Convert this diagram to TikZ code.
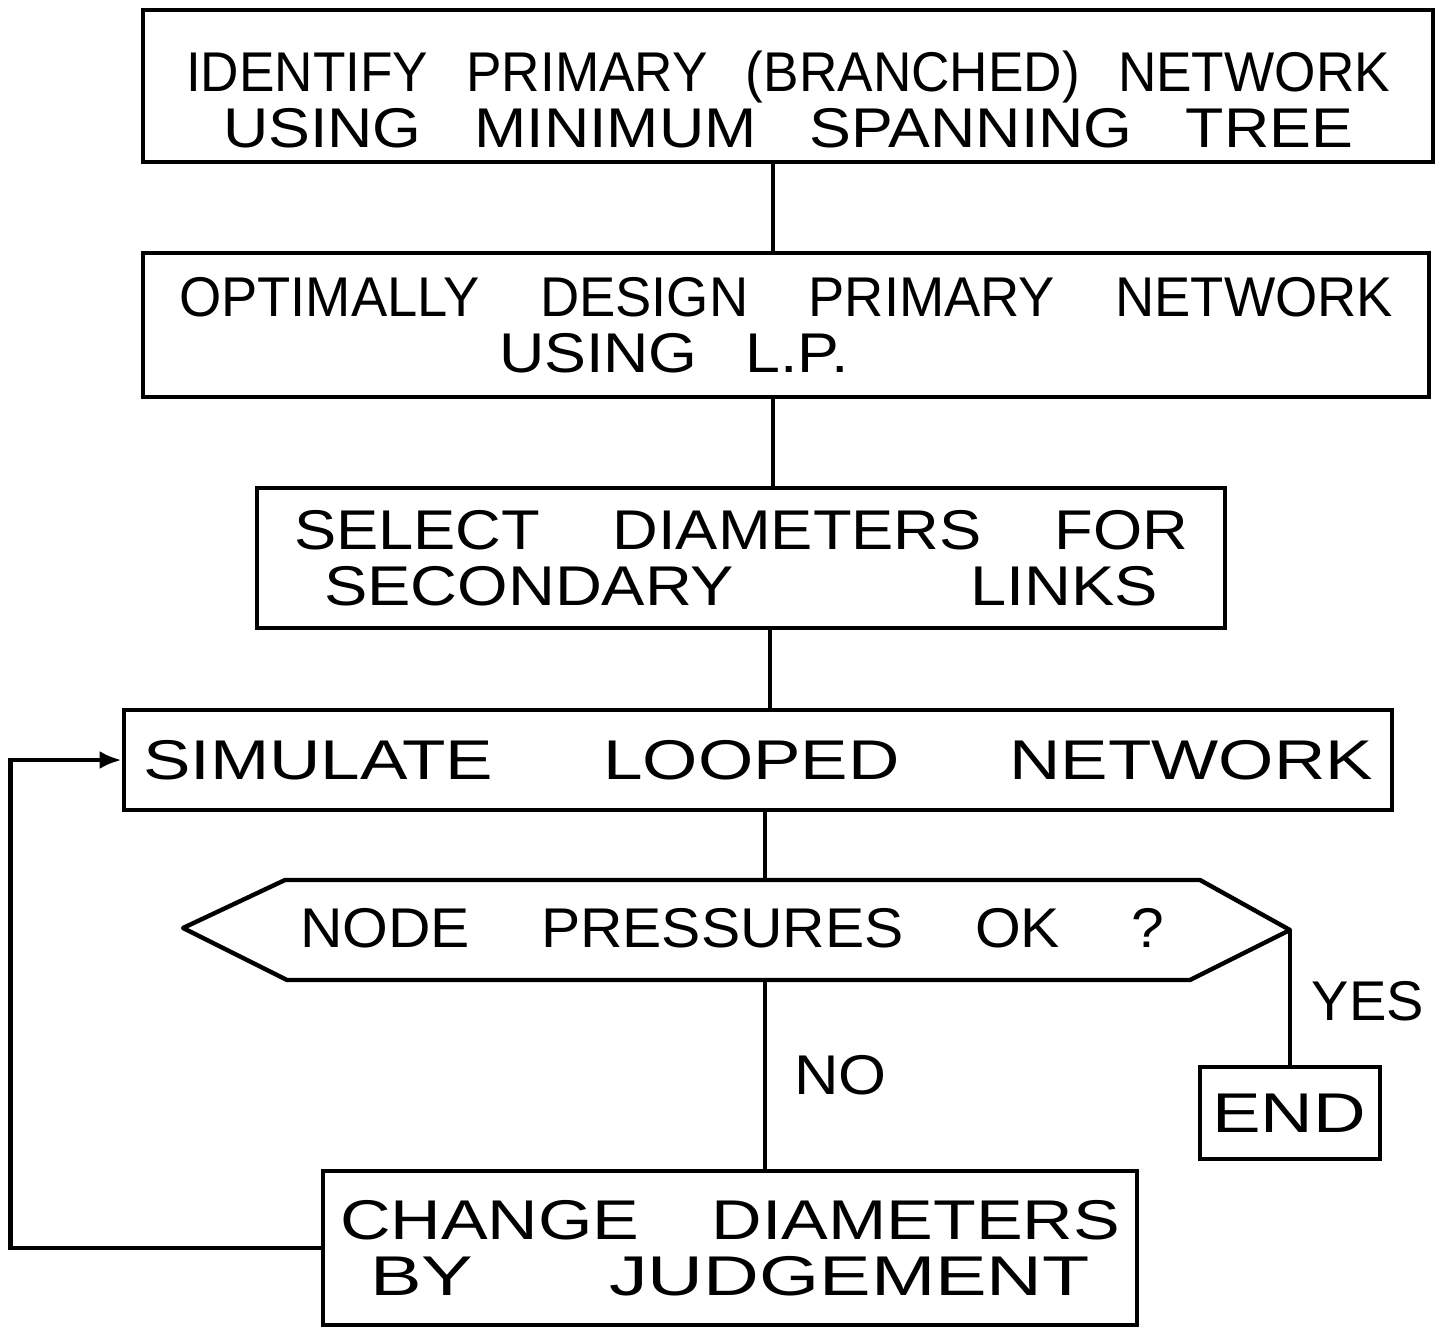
\documentclass[tikz,border=0pt]{standalone}
\usepackage{fontspec}
\setmainfont{Liberation Sans}
\usetikzlibrary{arrows.meta}

% one hand-lettered line: [glyph stretch]{width}{words}
\newcommand{\handline}[3][1]{{\addfontfeature{FakeStretch=#1}\makebox[#2][s]{#3}}}

\begin{document}
\begin{tikzpicture}[
    x=0.5pt, y=-0.5pt,
    font=\fontsize{28}{28}\selectfont,
    stepbox/.style={draw, line width=2.4pt, inner sep=0pt, align=center},
    link/.style={line width=2.2pt},
    loopback/.style={line width=2.2pt, -{Latex[length=11pt,width=9pt]}},
]
    \useasboundingbox (0,0) rectangle (1446,1335);

    % Process boxes
    \node[stepbox, minimum width=645pt, minimum height=76pt] (primary) at (788,86)
      {\rule{0pt}{34pt}\handline[0.95]{602pt}{IDENTIFY PRIMARY (BRANCHED) NETWORK}\\
       \handline[1.12]{565pt}{USING MINIMUM SPANNING TREE}};
    \node[stepbox, minimum width=643pt, minimum height=72pt] (design) at (786,325)
      {\handline[0.97]{607pt}{OPTIMALLY DESIGN PRIMARY NETWORK}\\
       \makebox[607pt][l]{\hspace*{160pt}\handline[1.12]{175pt}{USING L.P.}}};
    \node[stepbox, minimum width=484pt, minimum height=70pt] (select) at (741,558)
      {\handline[1.13]{447pt}{SELECT DIAMETERS FOR}\\
       \handline[1.16]{417pt}{SECONDARY LINKS}};
    \node[stepbox, minimum width=634pt, minimum height=50pt] (simulate) at (758,760)
      {\handline[1.27]{615pt}{SIMULATE LOOPED NETWORK}};

    % Decision (hexagon)
    \coordinate (askW)  at (183,928);
    \coordinate (askNW) at (285,880);
    \coordinate (askNE) at (1200,880);
    \coordinate (askE)  at (1290,930);
    \coordinate (askSE) at (1190,980);
    \coordinate (askSW) at (287,980);
    \draw[link, line join=round] (askW) -- (askNW) -- (askNE) -- (askE)
      -- (askSE) -- (askSW) -- cycle;
    \node (ask) at (732,928) {\handline[1.05]{432pt}{NODE PRESSURES OK ?}};

    % End and change boxes
    \node[stepbox, minimum width=90pt, minimum height=46pt] (finish) at (1290,1113)
      {\handline[1.3]{78pt}{END}};
    \node[stepbox, minimum width=407pt, minimum height=77pt] (change) at (730,1248)
      {\handline[1.25]{390pt}{CHANGE DIAMETERS}\\
       \handline[1.38]{360pt}{BY JUDGEMENT}};

    % Main spine
    \draw[link] (primary.south -| 773,0) -- (design.north -| 773,0);
    \draw[link] (design.south -| 773,0) -- (select.north -| 773,0);
    \draw[link] (select.south -| 770,0) -- (simulate.north -| 770,0);
    \draw[link] (simulate.south -| 765,0) -- (askNW -| 765,0);
    \draw[link] (askSW -| 765,0) -- (change.north -| 765,0);
    \draw[link] (askE) -- (askE |- finish.north);

    % Branch labels
    \node (yes) at (1368,1001) {YES};
    \node (no)  at (842,1075) {\handline[1.1]{48pt}{NO}};

    % Loop back to simulation
    \draw[loopback] (change.west) -- ++(-310,0) |- (simulate.west);
\end{tikzpicture}
\end{document}
